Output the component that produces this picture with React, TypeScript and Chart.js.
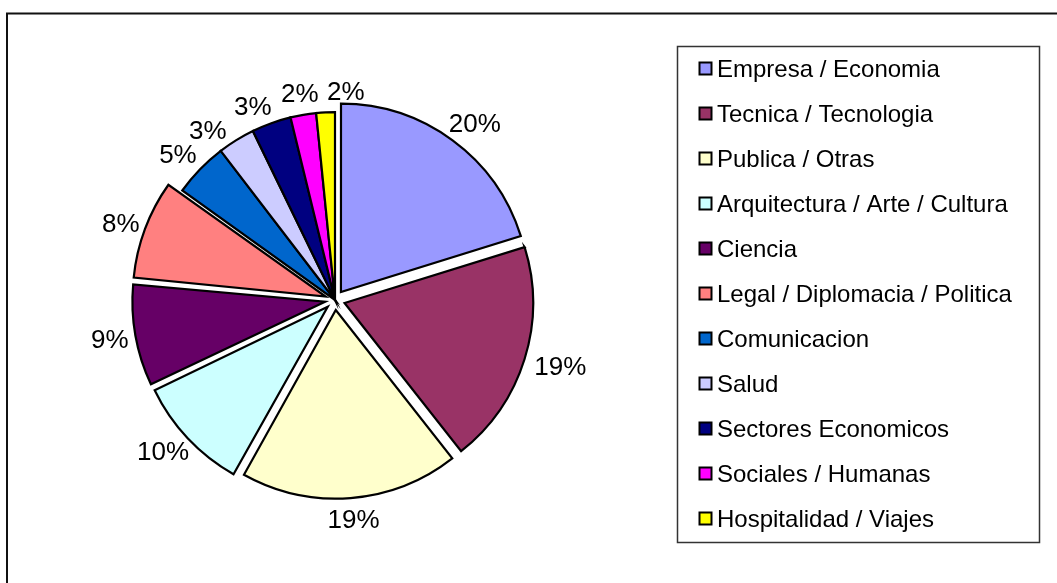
import React, { useEffect, useRef } from "react";
import { Chart, registerables } from "chart.js";

Chart.register(...registerables);

// ---- data ----
const categories = [
  "Empresa / Economia",
  "Tecnica / Tecnologia",
  "Publica / Otras",
  "Arquitectura / Arte / Cultura",
  "Ciencia",
  "Legal / Diplomacia / Politica",
  "Comunicacion",
  "Salud",
  "Sectores Economicos",
  "Sociales / Humanas",
  "Hospitalidad / Viajes",
];
const shares = [20.2, 19.2, 18.7, 9.8, 8.6, 8.4, 4.7, 3.2, 3.4, 2.2, 1.6];
const sliceColors = [
  "#9999FF",
  "#993366",
  "#FFFFCC",
  "#CCFFFF",
  "#660066",
  "#FF8080",
  "#0066CC",
  "#CCCCFF",
  "#000080",
  "#FF00FF",
  "#FFFF00",
];
// Chart.js 4 moves an arc by offset / 4 px
const explode = [40, 40, 40, 40, 40, 40, 0, 0, 0, 0, 0];

// ---- layout / style ----
const W = 1057;
const H = 583;
const FONT = '"Liberation Sans", Arial, Helvetica, sans-serif';
const LABEL_SIZE = 26;
const LEGEND_SIZE = 24;
const LEGEND = { left: 677, top: 46, right: 1039, bottom: 542, firstRow: 68.5, rowGap: 45, boxX: 699.5, textX: 717 };

const framePlugin = {
  id: "frame",
  beforeDraw(chart: any) {
    const ctx = chart.ctx;
    ctx.save();
    ctx.fillStyle = "#ffffff";
    ctx.fillRect(0, 0, W, H);
    ctx.strokeStyle = "#111111";
    ctx.lineWidth = 2;
    ctx.strokeRect(7, 13.5, W + 50, H + 50);
    ctx.restore();
  },
};

const legendPlugin = {
  id: "boxLegend",
  afterDraw(chart: any) {
    const ctx = chart.ctx;
    const labels = chart.data.labels as string[];
    const colors = chart.data.datasets[0].backgroundColor as string[];
    ctx.save();
    ctx.strokeStyle = "#333333";
    ctx.lineWidth = 1.5;
    ctx.strokeRect(LEGEND.left + 0.5, LEGEND.top + 0.5, LEGEND.right - LEGEND.left, LEGEND.bottom - LEGEND.top);
    ctx.font = `${LEGEND_SIZE}px ${FONT}`;
    ctx.textBaseline = "alphabetic";
    ctx.textAlign = "left";
    labels.forEach((lab, i) => {
      const cy = LEGEND.firstRow + i * LEGEND.rowGap;
      ctx.fillStyle = colors[i];
      ctx.fillRect(LEGEND.boxX, cy - 6, 12, 12);
      ctx.strokeStyle = "#000000";
      ctx.lineWidth = 2;
      ctx.strokeRect(LEGEND.boxX, cy - 6, 12, 12);
      ctx.fillStyle = "#000000";
      ctx.fillText(lab, LEGEND.textX, cy + 0.358 * LEGEND_SIZE);
    });
    ctx.restore();
  },
};

const pctPlugin = {
  id: "pctLabels",
  afterDatasetsDraw(chart: any) {
    const ctx = chart.ctx;
    const meta = chart.getDatasetMeta(0);
    const data = chart.data.datasets[0].data as number[];
    const offs = chart.data.datasets[0].offset as number[];
    const total = data.reduce((a, b) => a + b, 0);
    const gap = 12;
    ctx.save();
    ctx.font = `${LABEL_SIZE}px ${FONT}`;
    ctx.fillStyle = "#000000";
    ctx.textAlign = "center";
    ctx.textBaseline = "alphabetic";
    const h = LABEL_SIZE * 0.75;
    const items = meta.data.map((arc: any, i: number) => {
      const p = arc.getProps(["x", "y", "startAngle", "endAngle", "outerRadius"], true);
      const text = Math.round((data[i] / total) * 100) + "%";
      return {
        p,
        text,
        w: ctx.measureText(text).width,
        ang: (p.startAngle + p.endAngle) / 2,
        r: p.outerRadius + (offs[i] || 0) / 4 + gap,
      };
    });
    const place = (it: any) => ({
      cx: it.p.x + Math.cos(it.ang) * (it.r + it.w / 2),
      cy: it.p.y + Math.sin(it.ang) * (it.r + h / 2),
    });
    const overlap = (a: any, b: any) => {
      const pa = place(a);
      const pb = place(b);
      return Math.abs(pa.cx - pb.cx) < (a.w + b.w) / 2 + 8 && Math.abs(pa.cy - pb.cy) < h + 4;
    };
    const n = items.length;
    for (let iter = 0; iter < 300; iter++) {
      let moved = false;
      for (let i = 0; i < n; i++) {
        const a = items[i];
        const b = items[(i + 1) % n];
        if (overlap(a, b)) {
          a.ang -= 0.004;
          b.ang += 0.004;
          moved = true;
        }
      }
      if (!moved) break;
    }
    items.forEach((it: any) => {
      const { cx, cy } = place(it);
      ctx.fillText(it.text, cx, cy + 0.358 * LABEL_SIZE);
    });
    ctx.restore();
  },
};

export default function App() {
  const ref = useRef<HTMLCanvasElement | null>(null);
  useEffect(() => {
    if (!ref.current) return;
    const chart = new Chart(ref.current, {
      type: "pie",
      data: {
        labels: categories,
        datasets: [
          {
            data: shares,
            backgroundColor: sliceColors,
            borderColor: "#000000",
            borderWidth: 2.2,
            borderJoinStyle: "miter",
            offset: explode,
          } as any,
        ],
      },
      options: {
        responsive: false,
        animation: false,
        events: [],
        layout: { padding: { left: 126, right: 513, top: 91, bottom: 74 } },
        plugins: {
          legend: { display: false },
          tooltip: { enabled: false },
        },
      },
      plugins: [framePlugin, pctPlugin, legendPlugin],
    });
    return () => chart.destroy();
  }, []);
  return (
    <div style={{ position: "absolute", left: 0, top: 0, width: W, height: H }}>
      <canvas ref={ref} width={W} height={H} style={{ display: "block", width: W, height: H }} />
    </div>
  );
}
